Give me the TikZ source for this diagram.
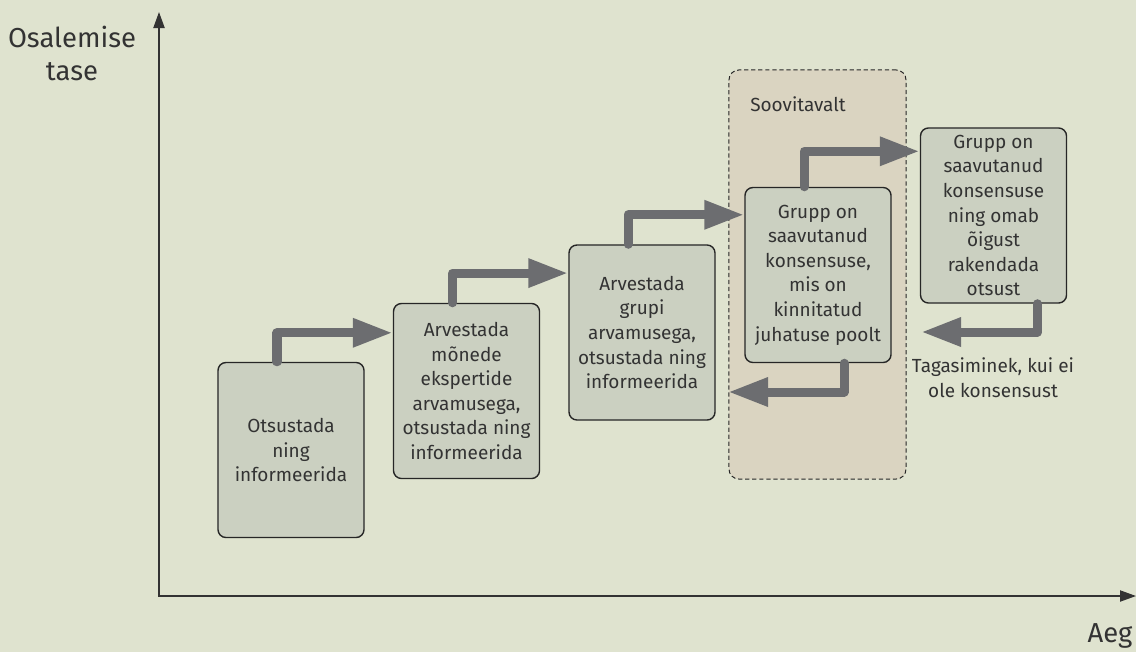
\documentclass[tikz,border=0pt]{standalone}
\usepackage{fontspec}
\setmainfont{Fira Sans}
\usetikzlibrary{arrows.meta}
\definecolor{bgcol}{HTML}{DFE3CF}
\definecolor{boxcol}{HTML}{CBD0C1}
\definecolor{tancol}{HTML}{DAD4C1}
\definecolor{arrowcol}{HTML}{6C6D70}
\definecolor{textcol}{HTML}{333333}

\begin{document}
\begin{tikzpicture}[x=0.025cm,y=-0.025cm]
            \tikzset{stepbox/.style = {shape=rectangle, rounded corners=0.2cm, draw=black!85, line width=1pt, fill=boxcol, minimum width=3.65cm, minimum height=4.375cm, align=center, text=textcol, font=\fontsize{13.5}{17.5}\selectfont}}
            \tikzset{steparrow/.style = {draw=arrowcol, line width=0.225cm, line cap=round, line join=round, -{Triangle[length=1cm, width=0.675cm]}}}
            \tikzset{note/.style = {align=center, text=textcol, font=\fontsize{13.5}{17.5}\selectfont}}
            \tikzset{axislabel/.style = {align=center, text=textcol, font=\fontsize{19.5}{23.5}\selectfont}}
            \tikzset{axis/.style = {draw=black!80, line width=1pt, {Triangle[length=0.4cm, width=0.28cm]}-{Triangle[length=0.4cm, width=0.28cm]}}}
            % background
            \fill[bgcol] (0,0) rectangle (1136,652);
            \useasboundingbox (0,0) rectangle (1136,652);
            % recommended zone
            \node[draw=black!85, densely dashed, line width=0.7pt, rounded corners=0.25cm, fill=tancol, minimum width=4.425cm, minimum height=10.225cm] (zone) at (817.5,274.5) {};
            \node[note] (zonelabel) at (798,104) {Soovitavalt};
            % axes
            \coordinate (origin) at (159,596);
            \coordinate (ytop) at (159,12);
            \coordinate (xend) at (1136,596);
            \draw[axis] (ytop) -- (origin) -- (xend);
            \node[axislabel] (ylabel) at (72,53) {Osalemise\\tase};
            \node[axislabel] (xlabel) at (1110,636) {Aeg};
            % steps
            \node[stepbox] (b1) at (291,450) {Otsustada\\ning\\informeerida};
            \node[stepbox] (b2) at (466.5,391) {Arvestada\\mõnede\\ekspertide\\arvamusega,\\otsustada ning\\informeerida};
            \node[stepbox] (b3) at (642,332.5) {Arvestada\\grupi\\arvamusega,\\otsustada ning\\informeerida};
            \node[stepbox] (b4) at (818,275) {Grupp on\\saavutanud\\konsensuse,\\mis on\\kinnitatud\\juhatuse poolt};
            \node[stepbox] (b5) at (993.5,215.5) {Grupp on\\saavutanud\\konsensuse\\ning omab\\õigust\\rakendada\\otsust};
            \node[note] (backlabel) at (993,377.5) {Tagasiminek, kui ei\\ole konsensust};
            % arrows
            \draw[steparrow] ([xshift=-0.35cm]b1.north) |- ([yshift=-0.75cm]b2.north west);
            \draw[steparrow] ([xshift=-0.35cm]b2.north) |- ([yshift=-0.72cm]b3.north west);
            \draw[steparrow] ([xshift=-0.35cm]b3.north) |- ([yshift=-0.7cm]b4.north west);
            \draw[steparrow] ([xshift=-0.35cm]b4.north) |- ([yshift=-0.6cm]b5.north west);
            % way back
            \coordinate (back4) at (728,392);
            \coordinate (back5) at (921,332);
            \draw[steparrow] ([xshift=0.65cm]b4.south) |- (back4);
            \draw[steparrow] ([xshift=1.1cm]b5.south) |- (back5);
        \end{tikzpicture}
\end{document}
